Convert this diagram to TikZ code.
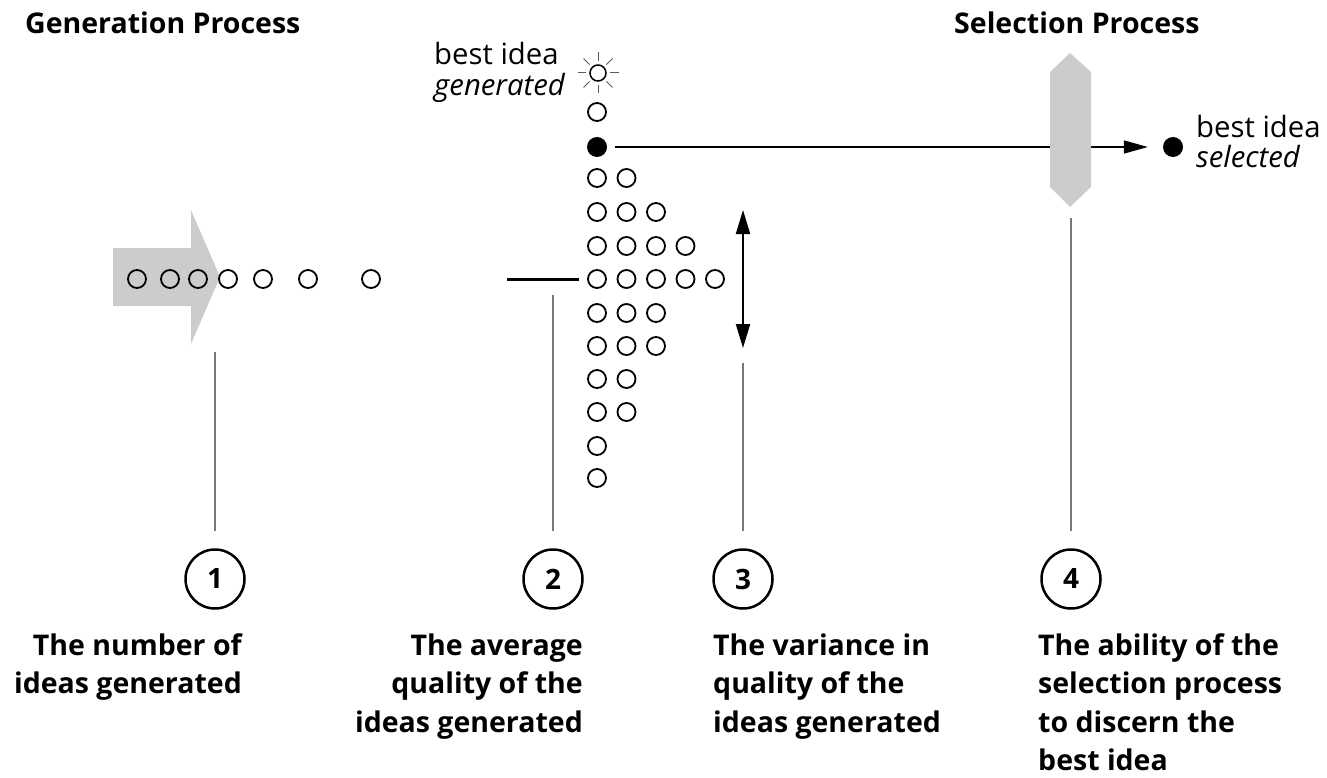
\documentclass[tikz,border=0pt]{standalone}
\usepackage{fontspec}
\setmainfont{Open Sans}
\usetikzlibrary{arrows.meta}
\definecolor{shadegray}{RGB}{204,204,204}
\definecolor{leadgray}{RGB}{120,120,120}
\definecolor{raycol}{RGB}{90,90,90}
\tikzset{
 idea/.style={circle, draw=black, line width=1.8pt, minimum size=18pt, inner sep=0pt},
 dot/.style={circle, fill=black, minimum size=20pt, inner sep=0pt},
 numcirc/.style={circle, draw=black, line width=2.5pt, minimum size=59pt, inner sep=0pt, font=\fontsize{28}{30}\selectfont\bfseries},
 lead/.style={draw=leadgray, line width=1.5pt},
 caption/.style={inner sep=0pt, font=\fontsize{28.5}{38.5}\selectfont\bfseries},
 title/.style={inner sep=0pt, font=\fontsize{28.5}{30}\selectfont\bfseries},
 note/.style={inner sep=0pt, font=\fontsize{29.3}{31}\selectfont, align=left},
 tipend/.style={-{Triangle[length=24pt,width=13pt]}},
 twotips/.style={{Triangle[length=24pt,width=14pt]}-{Triangle[length=24pt,width=14pt]}}
}
\begin{document}
\begin{tikzpicture}[x=1pt,y=-1pt]
\useasboundingbox (0,0) rectangle (1327,778);

% titles
\node[title, anchor=base west] (gp) at (25,34) {Generation Process};
\node[title, anchor=base west] (sp) at (954,34) {Selection Process};

% generation arrow
\fill[shadegray] (113,248) -- (191,248) -- (191,210) -- (220,277) -- (191,344) -- (191,306) -- (113,306) -- cycle;
\foreach \x [count=\i] in {137,170,198,228,263,308,371}
  \node[idea] (g\i) at (\x,279) {};

% dot plot
\foreach \y/\n [count=\r] in {112/1,178/2,212/3,246/4,279/5,313/3,346/3,379/2,412/2,446/1,478/1}
  \foreach \k in {1,...,\n}
    \node[idea] (d\r-\k) at ({597+29.5*(\k-1)},\y) {};
\node[dot] (best) at (597,147) {};

% sun
\node[circle, draw=black, line width=1.5pt, minimum size=16pt, inner sep=0pt] (sun) at (598,73) {};
\foreach \a in {0,45,...,315}
  \draw[raycol, line width=1pt] (sun.center) ++(\a:12) -- ++(\a:8.5);
\node[note, anchor=base west] (bgen) at (434,96) {best idea\\\textit{generated}};

% selection
\node[dot] (sel) at (1173,147) {};
\node[note, anchor=base west] (bsel) at (1196,168) {best idea\\\textit{selected}};
\draw[line width=1.5pt, tipend, shorten <=8pt, shorten >=15pt] (best) -- (sel);
\fill[shadegray] (1070,53) -- (1091,72) -- (1091,187) -- (1070,207) -- (1050,187) -- (1050,72) -- cycle;

% mean line
\coordinate (m1) at (507,279);
\coordinate (m2) at (579,279);
\draw[line width=3pt] (m1) -- (m2);

% variance arrow
\coordinate (va) at (743,210);
\coordinate (vb) at (743,348);
\draw[line width=2pt, twotips] (va) -- (vb);

% numbered circles
\node[numcirc] (n1) at (215,579) {1};
\node[numcirc] (n2) at (553,579) {2};
\node[numcirc] (n3) at (743,579) {3};
\node[numcirc] (n4) at (1071,579) {4};

% leader lines
\coordinate (l1) at (215,352);
\coordinate (l2) at (553,295);
\coordinate (l3) at (743,363);
\coordinate (l4) at (1071,218);
\draw[lead, shorten >=17pt] (l1) -- (n1);
\draw[lead, shorten >=17pt] (l2) -- (n2);
\draw[lead, shorten >=17pt] (l3) -- (n3);
\draw[lead, shorten >=17pt] (l4) -- (n4);

% captions
\node[caption, anchor=base east, align=right] (t1) at (242,693.5) {The number of\\ideas generated};
\node[caption, anchor=base east, align=right] (t2) at (583,732) {The average\\quality of the\\ideas generated};
\node[caption, anchor=base west, align=left] (t3) at (713,732) {The variance in\\quality of the\\ideas generated};
\node[caption, anchor=base west, align=left] (t4) at (1038,770.5) {The ability of the\\selection process\\to discern the\\best idea};
\end{tikzpicture}
\end{document}
